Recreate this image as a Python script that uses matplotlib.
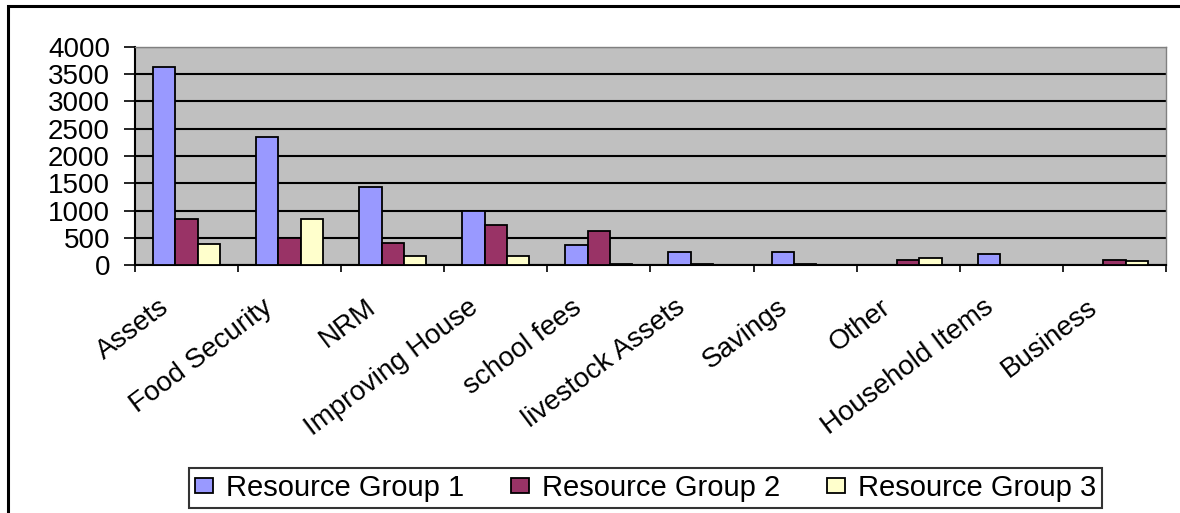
import matplotlib

matplotlib.use("Agg")
import matplotlib.pyplot as plt  # noqa: E402
import numpy as np  # noqa: E402
from matplotlib.patches import Rectangle  # noqa: E402
from matplotlib.transforms import ScaledTranslation  # noqa: E402

plt.rcParams["font.family"] = ["Liberation Sans", "DejaVu Sans"]

categories = [
    "Assets", "Food Security", "NRM", "Improving House", "school fees",
    "livestock Assets", "Savings", "Other", "Household Items", "Business",
]
group1 = [3640, 2350, 1430, 1000, 370, 240, 240, 0, 200, 0]
group2 = [850, 490, 410, 730, 620, 20, 20, 100, 0, 100]
group3 = [380, 850, 160, 160, 25, 0, 0, 135, 0, 65]
series_names = ["Resource Group 1", "Resource Group 2", "Resource Group 3"]
colors = ["#9999FF", "#993366", "#FFFFCC"]
yticks = [0, 500, 1000, 1500, 2000, 2500, 3000, 3500, 4000]

fig = plt.figure(figsize=(11.8, 5.13), dpi=100)
ax = fig.add_axes([0.1144, 0.4834, 0.8737, 0.425])
ax.set_facecolor("#C0C0C0")

x = np.arange(len(categories))
w = 0.217
for i, (vals, name, c) in enumerate(zip([group1, group2, group3], series_names, colors)):
    ax.bar(x + (i - 1) * w, vals, width=w, color=c, edgecolor="black",
           linewidth=1.3, label=name, zorder=3)

ax.set_xlim(-0.5, len(categories) - 0.5)
ax.set_ylim(0, 4000)
ax.set_yticks(yticks)
ax.yaxis.grid(True, color="black", linewidth=1.5, zorder=1)
ax.set_axisbelow(True)
ax.tick_params(axis="y", direction="out", length=8, width=1.2, labelsize=20, pad=10)

ax.set_xticks(np.arange(len(categories) + 1) - 0.5, minor=True)
ax.set_xticks(x)
ax.set_xticklabels(categories, rotation=37, ha="right", va="top",
                   rotation_mode="anchor", fontsize=20)
ax.tick_params(axis="x", which="major", length=0, pad=21)
ax.tick_params(axis="x", which="minor", direction="out", length=5, width=1.2)
shift = ScaledTranslation(-0.28, 0, fig.dpi_scale_trans)
for lab in ax.get_xticklabels():
    lab.set_transform(lab.get_transform() + shift)

for side in ["left", "bottom"]:
    ax.spines[side].set_color("black")
    ax.spines[side].set_linewidth(1.5)
for side in ["top", "right"]:
    ax.spines[side].set_color("#808080")
    ax.spines[side].set_linewidth(1.0)

leg = fig.legend(loc="center", bbox_to_anchor=(0.547, 0.049), ncol=3, fontsize=21,
                 frameon=True, fancybox=False, edgecolor="black", handlelength=0.62,
                 handleheight=0.45, handletextpad=0.45, columnspacing=1.6,
                 borderpad=0.2, borderaxespad=0)
leg.get_frame().set_linewidth(1.5)

fig.patches.append(Rectangle((0.0068, -0.1), 1.2, 1.088, transform=fig.transFigure,
                             fill=False, edgecolor="black", linewidth=2.2))

fig.savefig("out.png", dpi=100)
